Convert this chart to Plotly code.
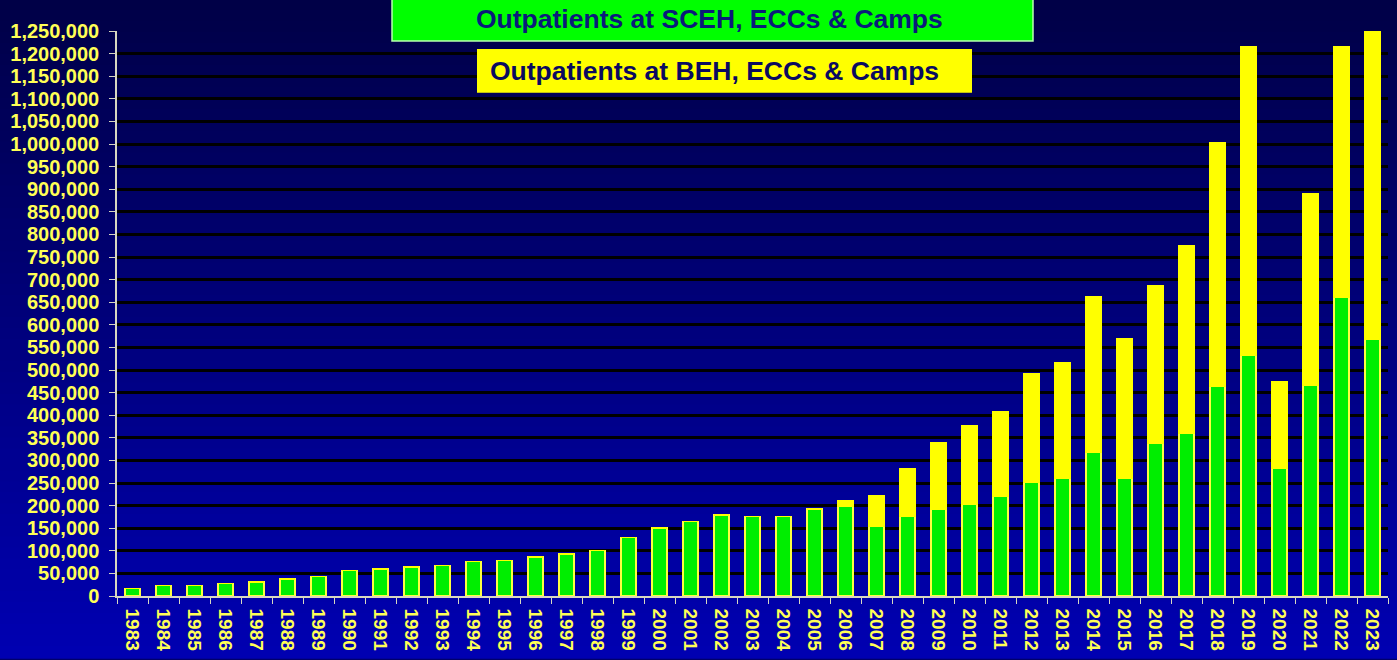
import plotly.graph_objects as go

years = [str(y) for y in range(1983, 2024)]
sceh = [17000, 23000, 23000, 28000, 31000, 38000, 43000, 56000, 60000, 64000,
        67000, 76000, 79000, 86000, 93000, 101000, 129000, 151000, 165000, 179000,
        176000, 176000, 193000, 198000, 155000, 177000, 192000, 202000, 220000, 252000,
        260000, 319000, 260000, 337000, 359000, 463000, 533000, 282000, 467000, 661000,
        568000]
beh = [0, 0, 0, 0, 0, 0, 0, 0, 0, 0,
       0, 0, 0, 0, 0, 0, 0, 0, 0, 0,
       0, 0, 0, 13000, 66000, 104000, 148000, 174000, 187000, 240000,
       257000, 342000, 310000, 349000, 417000, 539000, 682000, 193000, 423000, 554000,
       682000]
y_ticks = list(range(0, 1250001, 50000))

W, H = 1397, 660
L, R, T, B = 117, 1388, 31, 598

def px(x):
    return (x - L) / (R - L)

def py(y):
    return (B - y) / (B - T)

FONT = "Liberation Sans, Arial"

fig = go.Figure()
fig.add_trace(go.Bar(x=years, y=sceh, name="Outpatients at SCEH, ECCs & Camps",
                     marker=dict(color="#00ee00", line=dict(color="#ffff40", width=1.5))))
fig.add_trace(go.Bar(x=years, y=beh, name="Outpatients at BEH, ECCs & Camps",
                     marker=dict(color="#ffff00", line=dict(color="#ffff00", width=1.5))))

# gradient background bands
shapes = []
n = 60
top_c = (0, 0, 0x46)
bot_c = (0, 0, 0xb2)
for i in range(n):
    y0p = i * H / n
    y1p = (i + 1) * H / n
    t = (i + 0.5) / n
    c = tuple(int(round(top_c[k] + (bot_c[k] - top_c[k]) * t)) for k in range(3))
    shapes.append(dict(type="rect", xref="paper", yref="paper",
                       x0=px(-2), x1=px(W + 2), y0=py(y1p + 1), y1=py(y0p - 1),
                       fillcolor="rgb(%d,%d,%d)" % c, line=dict(width=0), layer="below"))

# legend boxes
shapes.append(dict(type="rect", xref="paper", yref="paper",
                   x0=px(392), x1=px(1033), y0=py(41), y1=py(-2),
                   fillcolor="#00ff00", line=dict(color="#b8ffb0", width=1.5), layer="above"))
shapes.append(dict(type="rect", xref="paper", yref="paper",
                   x0=px(477), x1=px(972), y0=py(93), y1=py(49),
                   fillcolor="#ffff00", line=dict(width=0), layer="above"))

annotations = [
    dict(text="Outpatients at SCEH, ECCs & Camps", xref="paper", yref="paper",
         x=px(474), y=py(19), xanchor="left", yanchor="middle", showarrow=False,
         font=dict(family=FONT, size=26.5, color="#0a1a7a", weight="bold")),
    dict(text="Outpatients at BEH, ECCs & Camps", xref="paper", yref="paper",
         x=px(488), y=py(71), xanchor="left", yanchor="middle", showarrow=False,
         font=dict(family=FONT, size=26.5, color="#0a0a60", weight="bold")),
]

fig.update_layout(
    width=W, height=H,
    barmode="stack", bargap=0.52,
    margin=dict(l=L, r=W - R, t=T, b=H - B, pad=0),
    paper_bgcolor="#00006a", plot_bgcolor="rgba(0,0,0,0)",
    showlegend=False,
    shapes=shapes, annotations=annotations,
    font=dict(family=FONT, color="#ffff55"),
    xaxis=dict(type="category", tickangle=90, tickson="boundaries",
               ticks="outside", ticklen=6, tickcolor="#d8d8c0",
               showline=True, linecolor="#d8d8c0", linewidth=1.5,
               showgrid=False, range=[-0.5, 40.5], ticklabelstandoff=7,
               tickfont=dict(family=FONT, size=19, color="#ffff55", weight="bold")),
    yaxis=dict(range=[0, 1250000], tickvals=y_ticks, tickformat=",d",
               ticks="outside", ticklen=6, tickcolor="#d8d8c0",
               showline=True, linecolor="#d8d8c0", linewidth=1.5,
               showgrid=True, gridcolor="#000000", gridwidth=2.5,
               zeroline=False, ticklabelstandoff=6,
               tickfont=dict(family=FONT, size=20, color="#ffff55", weight="bold")),
)

fig.write_html("out.html", config={"displayModeBar": False},
               post_script="document.body.style.margin='0';document.body.style.overflow='hidden';")
